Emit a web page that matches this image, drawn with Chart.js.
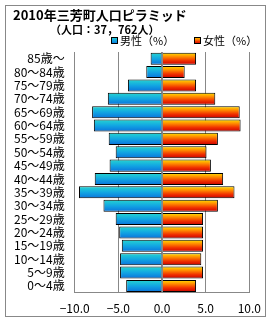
<!DOCTYPE html>
<html>
<head>
<meta charset="utf-8">
<script src="https://cdn.jsdelivr.net/npm/chart.js@4/dist/chart.umd.min.js"></script>
<style>
  html, body { margin: 0; padding: 0; background: #fff; }
  #wrap { position: relative; width: 270px; height: 320px; }
  #frame { position: absolute; left: 5px; top: 5px; width: 261px; height: 312px; border: 1px solid #888; box-sizing: border-box; }
  canvas { position: absolute; left: 0; top: 0; }
</style>
</head>
<body>
<div id="wrap">
  <div id="frame"></div>
  <canvas id="c" width="270" height="320"></canvas>
</div>
<script>
// 年齢階級（上から）
const ageGroups = ['85歳～', '80～84歳', '75～79歳', '70～74歳', '65～69歳', '60～64歳',
  '55～59歳', '50～54歳', '45～49歳', '40～44歳', '35～39歳', '30～34歳',
  '25～29歳', '20～24歳', '15～19歳', '10～14歳', '5～9歳', '0～4歳'];
// 男性（%）左側に負の値で描く
const male = [1.3, 1.8, 3.9, 6.2, 8.0, 7.8, 6.1, 5.3, 6.0, 7.7, 9.5, 6.7, 5.3, 4.9, 4.6, 4.8, 4.8, 4.1];
// 女性（%）
const female = [3.9, 2.6, 3.9, 6.1, 8.9, 9.0, 6.4, 5.1, 5.6, 7.0, 8.3, 6.4, 4.7, 4.7, 4.7, 4.5, 4.7, 3.9];
const xTicks = [-10, -5, 0, 5, 10];

const BAR_PCT = 0.9;
const maleStops = ['#26d6d0', '#12a6e2', '#0a72dc'];
const femaleStops = ['#ffe400', '#ff8a00', '#f03000', '#c80000'];
const FONT = '"Noto Sans CJK JP"';

function makeGradient(c, stops, y0, y1) {
  const g = c.createLinearGradient(0, y0, 0, y1);
  stops.forEach((s, i) => g.addColorStop(i / (stops.length - 1), s));
  return g;
}

// 棒ごとの縦グラデーション
function barGradient(stops, fallback) {
  return function (ctx) {
    const chart = ctx.chart;
    const ys = chart.scales.y;
    if (ctx.type !== 'data' || !chart.chartArea || !ys) return fallback;
    const yc = ys.getPixelForValue(ctx.dataIndex);
    const h = (chart.chartArea.bottom - chart.chartArea.top) / ageGroups.length * BAR_PCT;
    return makeGradient(chart.ctx, stops, yc - h / 2, yc + h / 2);
  };
}

// タイトル・人口・凡例
const headerPlugin = {
  id: 'header',
  afterDraw(chart) {
    const c = chart.ctx;
    c.save();
    c.fillStyle = '#000';
    c.textBaseline = 'middle';
    c.textAlign = 'left';
    c.font = 'bold 13px ' + FONT;
    c.fillText('2010年三芳町人口ピラミッド', 13, 15);
    c.font = 'bold 11px ' + FONT;
    c.fillText('（人口：37，762人）', 50, 30);

    const items = [
      { x: 111, text: chart.data.datasets[0].label, stops: maleStops },
      { x: 194, text: chart.data.datasets[1].label, stops: femaleStops }
    ];
    c.font = '11px ' + FONT;
    items.forEach(it => {
      c.fillStyle = makeGradient(c, it.stops, 37, 44);
      c.fillRect(it.x, 37, 7, 7);
      c.strokeStyle = '#000';
      c.lineWidth = 1;
      c.strokeRect(it.x + 0.5, 37.5, 6, 6);
      c.fillStyle = '#000';
      c.fillText(it.text, it.x + 9, 41);
    });
    c.restore();
  }
};

const zeroLine = {
  id: 'zeroLine',
  afterDatasetsDraw(chart) {
    const c = chart.ctx;
    const x = Math.round(chart.scales.x.getPixelForValue(0)) + 0.5;
    c.save();
    c.strokeStyle = '#888';
    c.lineWidth = 1;
    c.beginPath();
    c.moveTo(x, chart.chartArea.top);
    c.lineTo(x, chart.chartArea.bottom);
    c.stroke();
    c.restore();
  }
};

new Chart(document.getElementById('c'), {
  type: 'bar',
  data: {
    labels: ageGroups,
    datasets: [{
      label: '男性（%）',
      data: male.map(v => -v),
      backgroundColor: barGradient(maleStops, '#14a8e0'),
      borderColor: '#000',
      borderWidth: 1,
      grouped: false,
      barPercentage: BAR_PCT,
      categoryPercentage: 1
    }, {
      label: '女性（%）',
      data: female,
      backgroundColor: barGradient(femaleStops, '#ff6a00'),
      borderColor: '#000',
      borderWidth: 1,
      grouped: false,
      barPercentage: BAR_PCT,
      categoryPercentage: 1
    }]
  },
  options: {
    indexAxis: 'y',
    responsive: false,
    animation: false,
    layout: { padding: { top: 52, left: 4, right: 17, bottom: -5 } },
    plugins: {
      title: { display: false },
      tooltip: { enabled: false },
      legend: { display: false }
    },
    scales: {
      x: {
        min: -10,
        max: 10,
        afterBuildTicks(scale) { scale.ticks = xTicks.map(v => ({ value: v })); },
        grid: { color: '#888', drawTicks: false },
        border: { color: '#888' },
        ticks: {
          padding: 9,
          color: '#000',
          font: { family: FONT, size: 12 },
          callback: v => (v < 0 ? '−' : '') + Math.abs(v).toFixed(1)
        }
      },
      y: {
        grid: { display: false, drawTicks: false },
        border: { color: '#888' },
        ticks: {
          padding: 10,
          autoSkip: false,
          color: '#000',
          font: { family: FONT, size: 12 }
        }
      }
    }
  },
  plugins: [headerPlugin, zeroLine]
});
</script>
</body>
</html>
